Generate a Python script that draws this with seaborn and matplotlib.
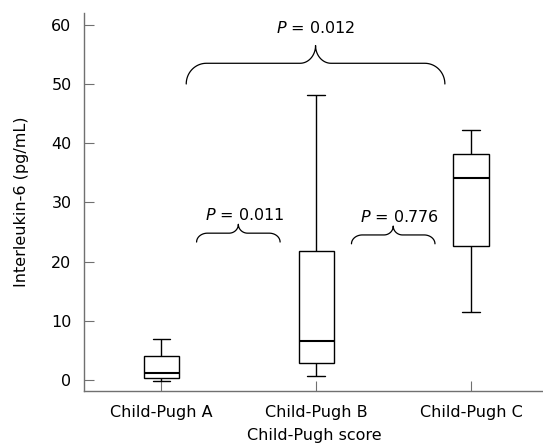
import numpy as np
import pandas as pd
import seaborn as sns
import matplotlib.pyplot as plt

# Five-number summaries (min, Q1, median, Q3, max)
grupos = ["Child-Pugh A", "Child-Pugh B", "Child-Pugh C"]
minimo = [-0.2, 0.6, 11.4]
q1 = [0.3, 2.9, 22.6]
mediana = [1.2, 6.6, 34.1]
q3 = [4.1, 21.8, 38.2]
maximo = [7.0, 48.1, 42.2]

# Comparacoes: (grupo i, grupo j, texto do P)
comp_i = [0, 1, 0]
comp_j = [1, 2, 2]
comp_p = ["0.011", "0.776", "0.012"]
comp_y = [24.8, 24.5, 53.5]

linhas = []
for k, g in enumerate(grupos):
    for v in [minimo[k], q1[k], mediana[k], q3[k], maximo[k]]:
        linhas.append({"grupo": g, "valor": v})
base = pd.DataFrame(linhas)

sns.set_style("ticks")
plt.rcParams["font.family"] = ["DejaVu Sans"]
plt.rcParams["mathtext.fontset"] = "dejavusans"
plt.rcParams["text.color"] = "black"
plt.rcParams["axes.labelcolor"] = "black"
plt.rcParams["xtick.labelcolor"] = "black"
plt.rcParams["ytick.labelcolor"] = "black"

fs = 11.5

fig = plt.figure(figsize=(5.43, 4.44), dpi=100)
ax = fig.add_axes([0.1547, 0.1194, 0.85, 0.8514])

sns.boxplot(data=base, x="grupo", y="valor", order=grupos, whis=(0, 100),
            width=0.23, color="white", linecolor="black", linewidth=1,
            showfliers=False, ax=ax,
            medianprops={"linewidth": 1.5, "color": "black"})


def chave(ax, x0, x1, y, ponta, subida, rx, tx):
    # chave horizontal: pontas para baixo, bico no meio para cima
    yb = y - ponta
    yt = y + subida
    xm = (x0 + x1) / 2
    t = np.linspace(np.pi, np.pi / 2, 20)
    e1x = x0 + rx + rx * np.cos(t)
    e1y = yb + ponta * np.sin(t)
    t2 = np.linspace(-np.pi / 2, 0, 20)
    m1x = xm - tx + tx * np.cos(t2)
    m1y = yt + (yt - y) * np.sin(t2)
    xs = np.concatenate([e1x, m1x])
    ys = np.concatenate([e1y, m1y])
    xs = np.concatenate([xs, 2 * xm - xs[::-1]])
    ys = np.concatenate([ys, ys[::-1]])
    ax.plot(xs, ys, color="black", linewidth=0.9, clip_on=False)
    return xm, yt


for i, j, p, y in zip(comp_i, comp_j, comp_p, comp_y):
    if j - i == 1:
        x0, x1 = i + 0.227, j - 0.234
        xm, yt = chave(ax, x0, x1, y, 1.5, 1.5, 0.07, 0.06)
        ax.text(xm + 0.04, yt + 0.2, "$P$ = " + p, ha="center", va="bottom", fontsize=fs)
    else:
        x0, x1 = i + 0.16, j - 0.17
        xm, yt = chave(ax, x0, x1, y, 3.5, 3.0, 0.13, 0.1)
        ax.text(xm, yt + 1.6, "$P$ = " + p, ha="center", va="bottom", fontsize=fs)

ax.set_xlim(-0.5, 2.48)
ax.set_ylim(-1.86, 62)
ax.set_yticks([0, 10, 20, 30, 40, 50, 60])
ax.set_xlabel("Child-Pugh score", fontsize=fs, labelpad=6)
ax.set_ylabel("Interleukin-6 (pg/mL)", fontsize=fs, labelpad=16)

sns.despine(ax=ax)
for lado in ["left", "bottom"]:
    ax.spines[lado].set_color("#707070")
    ax.spines[lado].set_linewidth(1)
ax.tick_params(axis="y", direction="in", length=7, color="#707070", labelsize=fs, pad=9)
ax.tick_params(axis="x", direction="in", length=7, color="#707070", labelsize=fs, pad=10)

fig.savefig("out.png", dpi=100)
